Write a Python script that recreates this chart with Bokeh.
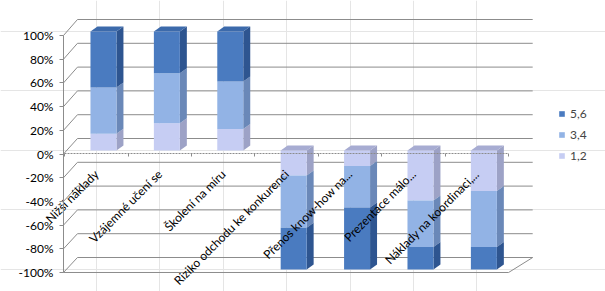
from math import pi
from bokeh.plotting import figure
from bokeh.models import (Range1d, LinearAxis, FixedTicker, PrintfTickFormatter,
                          Legend, LegendItem)
from bokeh.embed import file_html
from bokeh.resources import INLINE

# ---------------- data ----------------
categories = ["Nižší náklady", "Vzájemné učení se", "Školení na míru",
              "Riziko odchodu ke konkurenci", "Přenos know-how na...",
              "Prezentace málo...", "Náklady na koordinaci,..."]
series_names = ["1,2", "3,4", "5,6"]
s12 = [14, 23, 18, -21, -13, -42, -34]
s34 = [39, 42, 40, -44, -35, -39, -47]
s56 = [47, 35, 42, -35, -52, -19, -19]
y_ticks = [-100, -80, -60, -40, -20, 0, 20, 40, 60, 80, 100]

# ---------------- styles ----------------
FRONT = {"1,2": "#c6cdf3", "3,4": "#92b3e5", "5,6": "#4a7bc0"}
SIDE = {"1,2": "#9da2c6", "3,4": "#6a88b8", "5,6": "#2e5590"}
TOP = {"1,2": "#a7acd2", "5,6": "#3c6aab"}
GRID = "#8c8c8c"
FONT = "Lato"

# geometry of the pseudo-3D look (data units)
BAR_SHIFT, HALF_W = 0.11, 0.205
DEPTH_X, DEPTH_Y = 0.11, 4.2
WALL_DY, WALL_LEFT, WALL_RIGHT = 10.08, -0.30, 6.88
X0 = -0.5205


def lab_to_v(L):
    return (1.185 * L - 3.5) / 1.19


n = len(categories)
p = figure(width=605, height=291, x_range=Range1d(-1.5142, 8.0284),
           y_range=Range1d(-118.49, 126.05),
           x_axis_location=None, y_axis_location=None,
           min_border_left=0, min_border_right=0, min_border_top=0,
           min_border_bottom=0, output_backend="svg", toolbar_location=None,
           outline_line_color=None)
p.extra_y_ranges = {"lab": Range1d(-116.03, 129.54)}

# back wall gridlines and side wall diagonals
gy = [t + WALL_DY for t in y_ticks]
m = len(y_ticks)
p.segment(x0=[WALL_LEFT] * m, y0=gy, x1=[WALL_RIGHT] * m, y1=gy,
          line_color=GRID, line_width=1)
p.segment(x0=[X0] * m, y0=[lab_to_v(t) for t in y_ticks], x1=[WALL_LEFT] * m,
          y1=gy, line_color=GRID, line_width=1)
# floor front edge at the bottom
yb = lab_to_v(y_ticks[0])
p.segment(x0=[X0, n - 0.5], y0=[yb, yb], x1=[n - 0.5, WALL_RIGHT],
          y1=[yb, y_ticks[0] + WALL_DY], line_color=GRID, line_width=1)

# bars
xs = [i + BAR_SHIFT for i in range(n)]
base = [0] * n
front_r = {}
for name, vals in zip(series_names, [s12, s34, s56]):
    tops = [b + v for b, v in zip(base, vals)]
    lo = [min(a, b) for a, b in zip(base, tops)]
    hi = [max(a, b) for a, b in zip(base, tops)]
    side_xs = [[x + HALF_W, x + HALF_W + DEPTH_X, x + HALF_W + DEPTH_X, x + HALF_W] for x in xs]
    side_ys = [[l, l + DEPTH_Y, h + DEPTH_Y, h] for l, h in zip(lo, hi)]
    p.patches(side_xs, side_ys, fill_color=SIDE[name], line_color=None)
    front_r[name] = p.quad(left=[x - HALF_W for x in xs], right=[x + HALF_W for x in xs],
                           bottom=lo, top=hi, fill_color=FRONT[name], line_color=None)
    base = tops

# top faces
top_v = [max(0, a + b + c) for a, b, c in zip(s12, s34, s56)]
top_col = [TOP["5,6"] if t > 0 else TOP["1,2"] for t in top_v]
top_xs = [[x - HALF_W, x - HALF_W + DEPTH_X, x + HALF_W + DEPTH_X, x + HALF_W] for x in xs]
top_ys = [[t, t + DEPTH_Y, t + DEPTH_Y, t] for t in top_v]
p.patches(top_xs, top_ys, fill_color=top_col, line_color=None)

# axes
yaxis = LinearAxis(y_range_name="lab", ticker=FixedTicker(ticks=y_ticks),
                   formatter=PrintfTickFormatter(format="%d%%"),
                   fixed_location=X0,
                   axis_line_color=GRID, major_tick_line_color=GRID,
                   major_tick_out=4, major_tick_in=0, minor_tick_line_color=None,
                   major_label_standoff=6, major_label_text_font=FONT,
                   major_label_text_font_size="12px", major_label_text_color="black",
                   bounds=(y_ticks[0], y_ticks[-1]))
p.add_layout(yaxis, "left")

xaxis = LinearAxis(ticker=FixedTicker(ticks=list(range(n)),
                                      minor_ticks=[i - 0.5 for i in range(n + 1)]),
                   major_label_overrides={i: c for i, c in enumerate(categories)},
                   major_label_orientation=pi / 4, fixed_location=lab_to_v(0),
                   bounds=(-0.5, n - 0.5), axis_line_color=GRID, axis_line_dash="2 1",
                   major_tick_line_color=None, minor_tick_line_color=GRID,
                   minor_tick_out=3, minor_tick_in=0, major_label_standoff=12,
                   major_label_text_font=FONT, major_label_text_font_size="12px",
                   major_label_text_color="black")
p.add_layout(xaxis, "below")

legend = Legend(items=[LegendItem(label=nm, renderers=[front_r[nm]]) for nm in reversed(series_names)],
                location=(558, 128), orientation="vertical", border_line_color=None,
                background_fill_alpha=0, padding=0, spacing=6, glyph_width=7,
                glyph_height=7, label_standoff=5, label_text_font=FONT,
                label_text_font_size="12px", label_height=12, margin=0)
p.add_layout(legend)

open("out.html", "w").write(file_html(p, INLINE))
